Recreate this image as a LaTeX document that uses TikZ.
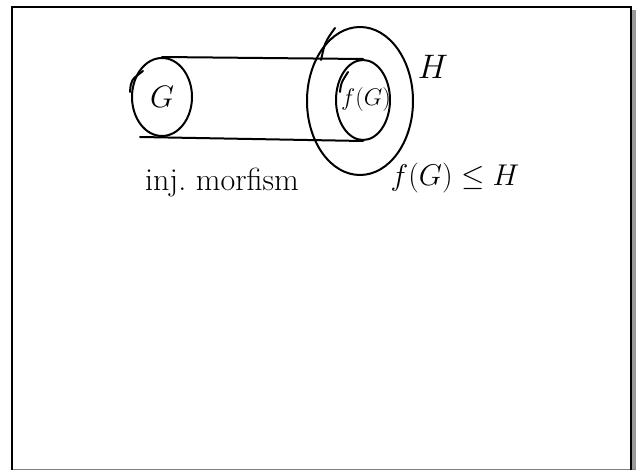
\RequirePackage{fix-cm}
\documentclass[tikz,border=0pt]{standalone}
\usepackage{amsmath}
\usepackage{amssymb}
\usepackage{tikz}
\usetikzlibrary{shapes.geometric}

\tikzset{
  pen/.style={line width=2pt, line cap=round},
  oval/.style={pen, draw, ellipse, inner sep=0pt},
  hand/.style={inner sep=0pt, font=\fontsize{30}{32}\selectfont}
}

\begin{document}
\begin{tikzpicture}[x=1pt,y=-1pt]
\useasboundingbox (0,0) rectangle (640,470);
% sheet
\fill[gray!80] (631,10) rectangle (636,470);
\draw[gray, line width=1pt] (12,469.5) -- (636,469.5);
\draw[line width=2.6pt] (12,470) -- (12,7) -- (631,7) -- (631,470);
% groups
\node[oval, minimum width=60pt, minimum height=78pt] (g) at (162,97) {};
\node[oval, minimum width=106pt, minimum height=148pt] (h) at (360,101) {};
\node[oval, minimum width=54pt, minimum height=80pt] (fg) at (363,100) {};
\draw[pen] (g.north) -- (fg.north);
\draw[pen] ([xshift=-22pt]g.south) -- (fg.south);
\draw[pen] (130,92) .. controls (131,80) .. (143,71); % double strokes
\draw[pen] (321,60) .. controls (325,42) .. (335,28);
\draw[pen] (340,92) .. controls (341,83) .. (348,72);
% labels
\node[hand, font=\fontsize{31}{33}\selectfont] (gl) at (g) {$G$};
\node[hand, font=\fontsize{24}{26}\selectfont] (fgl) at ([xshift=3pt]fg) {$f(G)$};
\node[hand, font=\fontsize{34}{36}\selectfont] (hl) at (433,67) {$H$};
\node[hand] (sub) at (455,178) {$f(G)\leq H$};
\node[hand, font=\fontsize{32}{34}\selectfont] (inj) at (222,183) {inj.\ morfism};
\end{tikzpicture}
\end{document}
